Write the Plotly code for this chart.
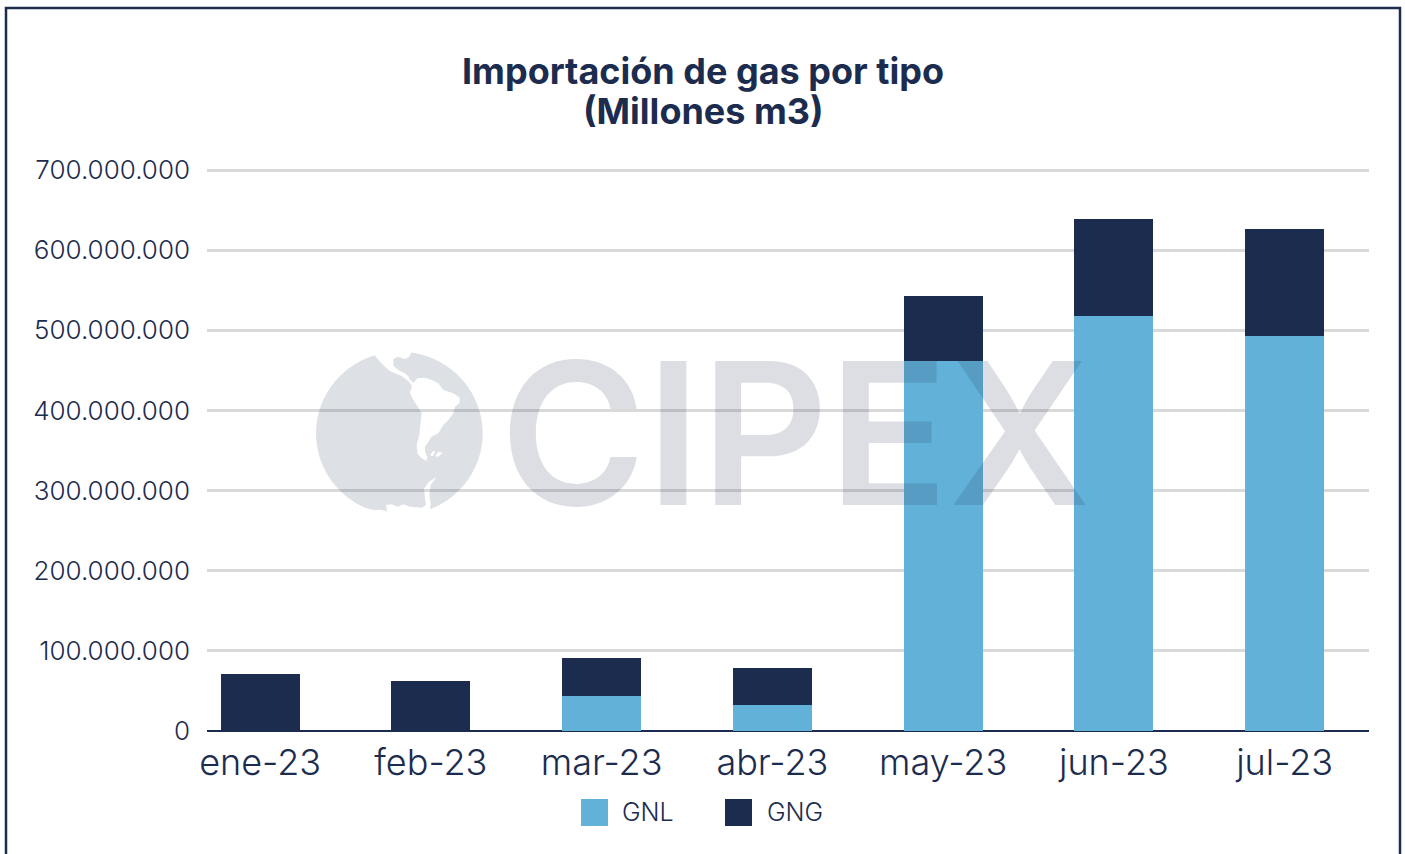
import numpy as np
import plotly.graph_objects as go

months = ["ene-23", "feb-23", "mar-23", "abr-23", "may-23", "jun-23", "jul-23"]
gnl = [0, 0, 44000000, 32000000, 462000000, 518000000, 493000000]
gng = [71000000, 62000000, 47000000, 47000000, 81000000, 121000000, 133000000]

DARK = "#1c2c4f"
BLUE = "#62b1d8"
GRID = "#d9d9d9"
FONT = "Inter"
W, H = 1405, 854
L, R, T, B = 207, 1369, 167, 732


def px(x):
    return (x - L) / (R - L)


def py(y):
    return (B - y) / (B - T)


def logo_pt(zx, zy):
    return (310 + zx / 3, 345 + zy / 3)


def arc(x0, y0, x1, y1, n=50):
    cx, cy, rx, ry = 268, 265, 250, 245
    a0 = np.arctan2((y0 - cy) / ry, (x0 - cx) / rx)
    a1 = np.arctan2((y1 - cy) / ry, (x1 - cx) / rx)
    if a1 < a0:
        a1 += 2 * np.pi
    return [(cx + rx * np.cos(a), cy + ry * np.sin(a)) for a in np.linspace(a0, a1, n)]


pacific_coast = [(192, 28), (210, 50), (225, 65), (240, 78), (255, 85), (275, 93), (295, 108), (306, 122), (300, 145),
                 (310, 165), (320, 180), (335, 205), (332, 230), (328, 270), (320, 300), (322, 325),
                 (335, 340), (350, 347), (352, 335), (345, 320), (345, 305), (355, 290), (365, 275),
                 (385, 265), (400, 240), (415, 225), (430, 205), (435, 185), (448, 175), (450, 158),
                 (430, 145), (400, 135), (385, 115), (365, 105), (345, 98), (322, 100), (310, 114),
                 (300, 104), (296, 95), (285, 85), (265, 75), (250, 62), (250, 42), (265, 35),
                 (285, 42), (298, 35), (305, 22)]
antarctic = [(362, 480), (358, 450), (362, 420), (380, 395), (355, 412), (342, 432), (345, 460),
             (348, 480), (335, 488), (300, 485), (280, 478), (262, 485), (245, 478), (228, 480),
             (232, 500), (215, 494), (190, 495), (165, 488)]
island_a = [(360, 330), (370, 318), (376, 320), (368, 334)]
island_b = [(375, 334), (385, 320), (398, 323), (385, 335)]

outline = (pacific_coast + arc(305, 22, 360, 493) + antarctic + arc(165, 488, 192, 28))


def to_path(points):
    pts = [logo_pt(*p) for p in points]
    return "M" + "L".join(f"{px(x):.5f},{py(y):.5f}" for x, y in pts) + "Z"


globe_path = to_path(outline) + to_path(island_a) + to_path(island_b)

fig = go.Figure()
fig.add_bar(name="GNL", x=months, y=gnl, marker_color=BLUE, marker_line_width=0, width=0.463)
fig.add_bar(name="GNG", x=months, y=gng, marker_color=DARK, marker_line_width=0, width=0.463)

shapes = [
    dict(type="rect", xref="paper", yref="paper", layer="below",
         x0=px(6), x1=px(1400), y0=py(8), y1=py(900), line=dict(color=DARK, width=2.5), fillcolor="white"),
    dict(type="path", xref="paper", yref="paper", layer="above", path=globe_path,
         fillcolor=DARK, opacity=0.15, line=dict(width=0)),
    dict(type="rect", xref="paper", yref="paper", x0=px(581), x1=px(608), y0=py(799), y1=py(826),
         fillcolor=BLUE, line=dict(width=0)),
    dict(type="rect", xref="paper", yref="paper", x0=px(725), x1=px(752), y0=py(799), y1=py(826),
         fillcolor=DARK, line=dict(width=0)),
]

annotations = [
    dict(text="CIPEX", xref="paper", yref="paper", x=px(795), y=py(433), xanchor="center", yanchor="middle",
         showarrow=False, opacity=0.15, font=dict(family=FONT, size=198, color=DARK, weight=600)),
    dict(text="(Millones m3)", xref="paper", yref="paper", x=px(703), y=py(111), xanchor="center", yanchor="middle",
         showarrow=False, font=dict(family=FONT, size=36, color=DARK, weight=700)),
    dict(text="GNL", xref="paper", yref="paper", x=px(620), y=py(812), xanchor="left", yanchor="middle",
         showarrow=False, font=dict(family=FONT, size=25, color=DARK, weight=300)),
    dict(text="GNG", xref="paper", yref="paper", x=px(765), y=py(812), xanchor="left", yanchor="middle",
         showarrow=False, font=dict(family=FONT, size=25, color=DARK, weight=300)),
]

fig.update_layout(
    width=W, height=H,
    margin=dict(l=L, r=W - R, t=T, b=H - B, pad=0),
    barmode="stack",
    showlegend=False,
    paper_bgcolor="white",
    plot_bgcolor="white",
    separators=",.",
    font=dict(family=FONT, color=DARK),
    title=dict(text="Importación de gas por tipo", x=703 / W, xanchor="center",
               y=1 - 71 / H, yanchor="middle", font=dict(family=FONT, size=36, color=DARK, weight=700)),
    shapes=shapes,
    annotations=annotations,
    xaxis=dict(type="category", categoryorder="array", categoryarray=months, range=[-0.311, 6.494],
               showgrid=False, showline=False, ticks="",
               tickfont=dict(family=FONT, size=36, color=DARK, weight=300), ticklabelstandoff=6),
    yaxis=dict(range=[-1250000, 703750000], tick0=0, dtick=100000000, tickformat=",d", showgrid=True,
               gridcolor=GRID, gridwidth=2.5, zeroline=True, zerolinecolor=DARK, zerolinewidth=2.2,
               showline=False, ticks="",
               tickfont=dict(family=FONT, size=26, color=DARK, weight=300), ticklabelstandoff=16),
)

fig.write_html("out.html", config={"displayModeBar": False},
               post_script="document.body.style.margin='0';document.body.style.overflow='hidden';")
